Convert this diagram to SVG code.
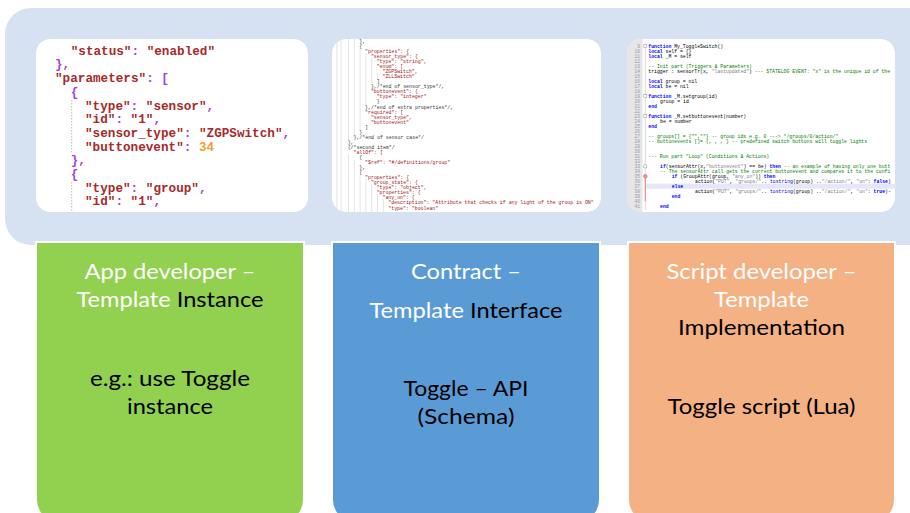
<svg xmlns="http://www.w3.org/2000/svg" width="910" height="513" viewBox="0 0 910 513">
<style>
.bg{fill:#D6E1F1}
.panel{fill:#FFFFFF}
.m1{font-family:"Liberation Mono","DejaVu Sans Mono",monospace;font-size:12.67px;font-weight:bold}
.s{fill:#A52A2A}
.p{fill:#A040E0}
.n{fill:#F5A030}
.m2{font-family:"Liberation Mono","DejaVu Sans Mono",monospace;font-size:4.9px}
.m3{font-family:"Liberation Mono","DejaVu Sans Mono",monospace;font-size:4.8px}
.r{fill:#A31515}
.k{fill:#333333}
.kw{fill:#0000FF;font-weight:bold}
.cm{fill:#008000}
.st{fill:#808080}
.bl{fill:#000000}
.fn{fill:#0000C0}
.ln{fill:#999999;font-family:"Liberation Mono",monospace;font-size:4.6px;text-anchor:end}
.guide{stroke:#D0D0D0;stroke-width:0.6;fill:none}
.dots{stroke:#BBBBBB;stroke-width:1;stroke-dasharray:1.5 1.5;fill:none}
.lbl{font-family:Lato,"Open Sans","Liberation Sans",sans-serif;font-size:22px;text-anchor:middle}
.w{fill:#FFFFFF}
.b{fill:#000000}
.box{stroke:#FFFFFF;stroke-width:2}
</style>
<defs>
<clipPath id="c1"><rect x="36" y="39" width="272" height="173" rx="14"/></clipPath>
<clipPath id="c2"><rect x="332" y="39" width="269" height="173" rx="14"/></clipPath>
<clipPath id="c3"><rect x="627" y="39" width="268" height="173" rx="14"/></clipPath>
</defs>

<g id="background">
<rect class="bg" x="5" y="8" width="940" height="237" rx="26"/>
</g>

<g id="panel-instance" clip-path="url(#c1)">
<rect class="panel" x="36" y="39" width="272" height="173" rx="14"/>
<line class="dots" x1="71.7" y1="100" x2="71.7" y2="153"/>
<line class="dots" x1="71.7" y1="182" x2="71.7" y2="212"/>
<g class="m1">
<text x="70.7" y="54.7"><tspan class="s">"status"</tspan><tspan class="p">: </tspan><tspan class="s">"enabled"</tspan></text>
<text x="55" y="68.4" class="p">},</text>
<text x="55" y="82.1"><tspan class="s">"parameters"</tspan><tspan class="p">: [</tspan></text>
<text x="70.7" y="95.8" class="p">{</text>
<text x="85" y="109.5"><tspan class="s">"type"</tspan><tspan class="p">: </tspan><tspan class="s">"sensor"</tspan><tspan class="p">,</tspan></text>
<text x="85" y="123.2"><tspan class="s">"id"</tspan><tspan class="p">: </tspan><tspan class="s">"1"</tspan><tspan class="p">,</tspan></text>
<text x="85" y="136.9"><tspan class="s">"sensor_type"</tspan><tspan class="p">: </tspan><tspan class="s">"ZGPSwitch"</tspan><tspan class="p">,</tspan></text>
<text x="85" y="150.6"><tspan class="s">"buttonevent"</tspan><tspan class="p">: </tspan><tspan class="n">34</tspan></text>
<text x="70.7" y="164.3" class="p">},</text>
<text x="70.7" y="178" class="p">{</text>
<text x="85" y="191.7"><tspan class="s">"type"</tspan><tspan class="p">: </tspan><tspan class="s">"group"</tspan><tspan class="p">,</tspan></text>
<text x="85" y="205.4"><tspan class="s">"id"</tspan><tspan class="p">: </tspan><tspan class="s">"1"</tspan><tspan class="p">,</tspan></text>
</g>
</g>

<g id="panel-interface" clip-path="url(#c2)">
<rect class="panel" x="332" y="39" width="269" height="173" rx="14"/>
<line class="guide" x1="337" y1="39" x2="337" y2="212"/>
<line class="guide" x1="341" y1="39" x2="341" y2="212"/>
<line class="guide" x1="348.5" y1="39" x2="348.5" y2="140"/>
<line class="guide" x1="348.5" y1="154" x2="348.5" y2="212"/>
<line class="guide" x1="354.3" y1="39" x2="354.3" y2="135"/>
<line class="guide" x1="354.3" y1="160" x2="354.3" y2="212"/>
<line class="guide" x1="360.1" y1="48" x2="360.1" y2="130"/>
<line class="guide" x1="360.1" y1="174" x2="360.1" y2="212"/>
<line class="guide" x1="365.9" y1="53" x2="365.9" y2="105"/>
<line class="guide" x1="365.9" y1="179" x2="365.9" y2="212"/>
<line class="guide" x1="371.7" y1="58" x2="371.7" y2="83"/>
<line class="guide" x1="371.7" y1="184" x2="371.7" y2="212"/>
<line class="guide" x1="377.5" y1="73" x2="377.5" y2="80"/>
<line class="guide" x1="377.5" y1="194" x2="377.5" y2="212"/>
<line class="guide" x1="383.3" y1="199" x2="383.3" y2="212"/>
<g class="m2">
<text class="k" x="359.3" y="42.8">},</text>
<text class="k" x="359.3" y="47.9">{</text>
<text class="r" x="365.1" y="52.9">"properties": {</text>
<text class="r" x="370.9" y="58">"sensor_type": {</text>
<text class="r" x="376.7" y="63">"type": "string",</text>
<text class="r" x="376.7" y="68.1">"enum": [</text>
<text class="r" x="382.5" y="73.1">"ZGPSwitch",</text>
<text class="r" x="382.5" y="78.2">"ZLLSwitch"</text>
<text class="k" x="376.7" y="83.2">]</text>
<text class="k" x="370.9" y="88.3">},/*end of sensor_type*/,</text>
<text class="r" x="370.9" y="93.3">"buttonevent": {</text>
<text class="r" x="376.7" y="98.4">"type": "integer"</text>
<text class="k" x="376.7" y="103.4">}</text>
<text class="k" x="365.1" y="108.5">},/*end of extra properties*/,</text>
<text class="r" x="365.1" y="113.5">"required": [</text>
<text class="r" x="370.9" y="118.6">"sensor_type",</text>
<text class="r" x="370.9" y="123.6">"buttonevent"</text>
<text class="k" x="365.1" y="128.7">]</text>
<text class="k" x="359.3" y="133.7">}</text>
<text class="k" x="353.5" y="138.8">},/*end of sensor case*/</text>
<text class="k" x="347.7" y="143.8">},</text>
<text class="k" x="347.7" y="148.9">{/*second item*/</text>
<text class="r" x="353.5" y="153.9">"allOf": [</text>
<text class="k" x="359.3" y="159">{</text>
<text class="r" x="365.1" y="164">"$ref": "#/definitions/group"</text>
<text class="k" x="359.3" y="169.1">},</text>
<text class="k" x="359.3" y="174.1">{</text>
<text class="r" x="365.1" y="179.2">"properties": {</text>
<text class="r" x="370.9" y="184.2">"group_state": {</text>
<text class="r" x="376.7" y="189.3">"type": "object",</text>
<text class="r" x="376.7" y="194.3">"properties": {</text>
<text class="r" x="382.5" y="199.4">"any_on": {</text>
<text class="r" x="388.3" y="204.4">"description": "Attribute that checks if any light of the group is ON"</text>
<text class="r" x="388.3" y="209.5">"type": "boolean"</text>
</g>
</g>

<g id="panel-implementation" clip-path="url(#c3)">
<rect class="panel" x="627" y="39" width="268" height="173" rx="14"/>
<rect x="627" y="39" width="15.5" height="173" fill="#E6E6E6"/>
<rect x="646" y="183.6" width="250" height="5.1" fill="#E6E6FA"/>
<line x1="645.3" y1="48" x2="645.3" y2="210" stroke="#B0B0B0" stroke-width="0.5"/>
<line x1="645.3" y1="176" x2="645.3" y2="201" stroke="#F08080" stroke-width="1"/>
<g fill="#FFFFFF" stroke="#909090" stroke-width="0.5">
<rect x="643.8" y="44.5" width="3" height="3"/>
<rect x="643.8" y="94.6" width="3" height="3"/>
<rect x="643.8" y="114.7" width="3" height="3"/>
<rect x="643.8" y="164.9" width="3" height="3"/>
</g>
<circle cx="645.3" cy="176.2" r="1.8" fill="#F4A0A0" stroke="#D04040" stroke-width="0.5"/>
<g class="ln">
<text x="640" y="47.6">9</text><text x="640" y="52.6">10</text><text x="640" y="57.6">11</text><text x="640" y="62.6">12</text>
<text x="640" y="67.7">13</text><text x="640" y="72.7">14</text><text x="640" y="77.7">15</text><text x="640" y="82.7">16</text>
<text x="640" y="87.8">17</text><text x="640" y="92.8">18</text><text x="640" y="97.8">19</text><text x="640" y="102.8">20</text>
<text x="640" y="107.8">21</text><text x="640" y="112.9">22</text><text x="640" y="117.9">23</text><text x="640" y="122.9">24</text>
<text x="640" y="127.9">25</text><text x="640" y="133">26</text><text x="640" y="138">27</text><text x="640" y="143">28</text>
<text x="640" y="148">29</text><text x="640" y="153">30</text><text x="640" y="158.1">31</text><text x="640" y="163.1">32</text>
<text x="640" y="168.1">33</text><text x="640" y="173.1">34</text><text x="640" y="178.2">35</text><text x="640" y="183.2">36</text>
<text x="640" y="188.2">37</text><text x="640" y="193.2">38</text><text x="640" y="198.2">39</text><text x="640" y="203.3">40</text>
<text x="640" y="208.3">41</text>
</g>
<g class="m3 bl">
<text x="648.3" y="47.6"><tspan class="kw">function</tspan> My_ToggleSwitch()</text>
<text x="648.3" y="52.6"><tspan class="kw">local</tspan> self = {}</text>
<text x="648.3" y="57.6"><tspan class="kw">local</tspan> _M = self</text>
<text x="648.3" y="67.7" class="cm">-- Init part (Triggers &amp; Parameters)</text>
<text x="648.3" y="72.7">trigger : sensorTr(x, <tspan class="st">"lastupdated"</tspan>) <tspan class="cm">--- STATELOG EVENT: "x" is the unique id of the</tspan></text>
<text x="648.3" y="82.7"><tspan class="kw">local</tspan> group = nil</text>
<text x="648.3" y="87.8"><tspan class="kw">local</tspan> be = nil</text>
<text x="648.3" y="97.8"><tspan class="kw">function</tspan> _M.setgroup(id)</text>
<text x="660" y="102.8">group = id</text>
<text x="648.3" y="107.8" class="kw">end</text>
<text x="648.3" y="117.9"><tspan class="kw">function</tspan> _M.setbuttonevent(number)</text>
<text x="660" y="122.9">be = number</text>
<text x="648.3" y="127.9" class="kw">end</text>
<text x="648.3" y="138" class="cm">-- groups[] = {"",""} -- group ids e.g. 0 ---&gt; "/groups/0/action/"</text>
<text x="648.3" y="143" class="cm">-- buttonevents []= {, , , } -- predefined switch buttons will toggle lights</text>
<text x="648.3" y="158.1" class="cm">--- Run part "Loop" (Conditions &amp; Actions)</text>
<text x="660" y="168.1"><tspan class="kw">if</tspan>(sensorAttr(x,<tspan class="st">"buttonevent"</tspan>) == be) <tspan class="kw">then</tspan> <tspan class="cm">-- an example of having only one butt</tspan></text>
<text x="660" y="173.1" class="cm">-- The sensorAttr call gets the current buttonevent and compares it to the confi</text>
<text x="671.7" y="178.2"><tspan class="kw">if</tspan> (GroupAttr(group, <tspan class="st">"any_on"</tspan>)) <tspan class="kw">then</tspan></text>
<text x="695" y="183.2">action(<tspan class="st">"PUT"</tspan>, <tspan class="st">"groups/"</tspan>.. <tspan class="fn">tostring</tspan>(group) ..<tspan class="st">"/action/"</tspan>, <tspan class="st">"on"</tspan>: <tspan class="kw">false</tspan>)</text>
<text x="671.7" y="188.2" class="kw">else</text>
<text x="695" y="193.2">action(<tspan class="st">"PUT"</tspan>, <tspan class="st">"groups/"</tspan>.. <tspan class="fn">tostring</tspan>(group) ..<tspan class="st">"/action/"</tspan>, <tspan class="st">"on"</tspan>: <tspan class="kw">true</tspan>)-</text>
<text x="671.7" y="198.2" class="kw">end</text>
<text x="660" y="208.3" class="kw">end</text>
</g>
</g>

<g id="connectors"/>

<g id="box-app-developer">
<path class="box" fill="#92D050" d="M36,242 H304 V500 A22,22 0 0 1 282,522 H58 A22,22 0 0 1 36,500 Z"/>
<text class="lbl w" x="170" y="279" textLength="171" lengthAdjust="spacingAndGlyphs">App developer –</text>
<text class="lbl" x="170" y="307" textLength="187" lengthAdjust="spacingAndGlyphs"><tspan class="w">Template </tspan><tspan class="b">Instance</tspan></text>
<text class="lbl b" x="170" y="386" textLength="160" lengthAdjust="spacingAndGlyphs">e.g.: use Toggle</text>
<text class="lbl b" x="170" y="414" textLength="86" lengthAdjust="spacingAndGlyphs">instance</text>
</g>

<g id="box-contract">
<path class="box" fill="#5B9BD5" d="M332,242 H600 V500 A22,22 0 0 1 578,522 H354 A22,22 0 0 1 332,500 Z"/>
<text class="lbl w" x="466" y="279" textLength="110" lengthAdjust="spacingAndGlyphs">Contract –</text>
<text class="lbl" x="466" y="318" textLength="193" lengthAdjust="spacingAndGlyphs"><tspan class="w">Template </tspan><tspan class="b">Interface</tspan></text>
<text class="lbl b" x="466" y="396" textLength="125" lengthAdjust="spacingAndGlyphs">Toggle – API</text>
<text class="lbl b" x="466" y="424" textLength="97" lengthAdjust="spacingAndGlyphs">(Schema)</text>
</g>

<g id="box-script-developer">
<path class="box" fill="#F4B183" d="M628,242 H895 V500 A22,22 0 0 1 873,522 H650 A22,22 0 0 1 628,500 Z"/>
<text class="lbl w" x="761.5" y="279" textLength="190" lengthAdjust="spacingAndGlyphs">Script developer –</text>
<text class="lbl w" x="761.5" y="307" textLength="95" lengthAdjust="spacingAndGlyphs">Template</text>
<text class="lbl b" x="761.5" y="335" textLength="167" lengthAdjust="spacingAndGlyphs">Implementation</text>
<text class="lbl b" x="761.5" y="414" textLength="188" lengthAdjust="spacingAndGlyphs">Toggle script (Lua)</text>
</g>
</svg>
